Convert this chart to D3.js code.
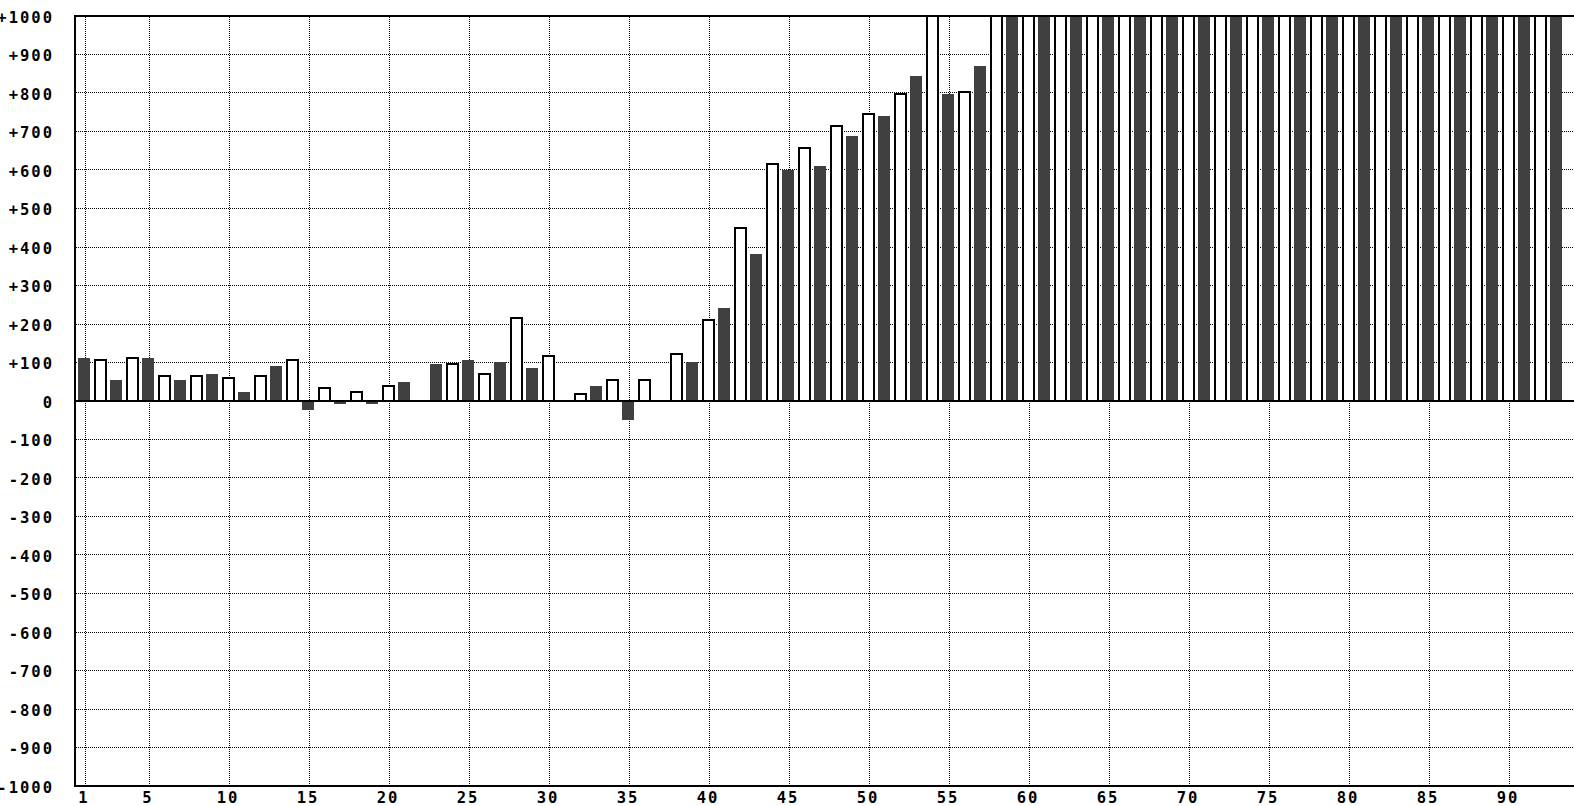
<!DOCTYPE html>
<html>
<head>
<meta charset="utf-8">
<script src="https://cdn.jsdelivr.net/npm/d3@7"></script>
<style>
  html, body { margin: 0; padding: 0; background: #fff; overflow: hidden; }
  svg { display: block; }
  .lbl { font-family: "DejaVu Sans Mono", monospace; font-weight: bold; font-size: 15.5px; letter-spacing: 2px; fill: #000; }
</style>
</head>
<body>
<div id="chart-container"></div>
<script>
// --- 1. DATA ---
// bar number -> value (null = no bar); odd numbers are dark, even are outlined
// values of 1000 run off the top of the scale
const barValues = [
  112, 108, 55, 115, 112, 68, 55, 68, 71, 63,
  23, 68, 91, 109, -23, 36, -8, 26, -8, 41,
  49, null, 96, 99, 106, 73, 101, 219, 86, 120,
  null, 21, 39, 58, -49, 58, null, 125, 101, 214,
  242, 453, 382, 619, 600, 660, 610, 717, 688, 749,
  740, 801, 844, 1000, 797, 806, 870, 1000, 1000, 1000,
  1000, 1000, 1000, 1000, 1000, 1000, 1000, 1000, 1000, 1000,
  1000, 1000, 1000, 1000, 1000, 1000, 1000, 1000, 1000, 1000,
  1000, 1000, 1000, 1000, 1000, 1000, 1000, 1000, 1000, 1000,
  1000, 1000, 1000
];
const xTicks = [1, 5, 10, 15, 20, 25, 30, 35, 40, 45, 50, 55, 60, 65, 70, 75, 80, 85, 90];
const yTicks = [-1000, -900, -800, -700, -600, -500, -400, -300, -200, -100, 0,
                100, 200, 300, 400, 500, 600, 700, 800, 900, 1000];

// --- 2. CONFIGURATION ---
const W = 1574, H = 806;
const plotLeft = 75, plotTop = 16, plotBottom = 786, plotRight = 1600;
const darkFill = '#404040';

const x = d3.scaleLinear().domain([1, 90]).range([84, 1508]);
const y = d3.scaleLinear().domain([-1000, 1000]).range([plotBottom, plotTop]);
const fmt = v => v > 0 ? '+' + v : String(v);

const svg = d3.select('#chart-container').append('svg')
  .attr('width', W)
  .attr('height', H);

svg.append('clipPath').attr('id', 'plot-clip')
  .append('rect')
  .attr('x', plotLeft).attr('y', plotTop)
  .attr('width', plotRight - plotLeft).attr('height', plotBottom - plotTop);

// --- 3. GRID ---
const grid = svg.append('g')
  .attr('stroke', '#000')
  .attr('stroke-width', 1)
  .attr('stroke-dasharray', '1,1')
  .attr('shape-rendering', 'crispEdges');

grid.selectAll('line.h')
  .data(yTicks.filter(v => v !== 0 && Math.abs(v) !== 1000))
  .enter().append('line')
  .attr('class', 'h')
  .attr('x1', plotLeft + 1).attr('x2', plotRight)
  .attr('y1', d => Math.floor(y(d)) + 0.5)
  .attr('y2', d => Math.floor(y(d)) + 0.5);

grid.selectAll('line.v')
  .data(xTicks)
  .enter().append('line')
  .attr('class', 'v')
  .attr('x1', d => Math.round(x(d)) + 1.5)
  .attr('x2', d => Math.round(x(d)) + 1.5)
  .attr('y1', plotTop + 1).attr('y2', plotBottom);

// --- 4. BARS ---
const bars = barValues
  .map((v, i) => ({ n: i + 1, v }))
  .filter(d => d.v !== null);

const barG = svg.append('g')
  .attr('clip-path', 'url(#plot-clip)')
  .attr('shape-rendering', 'crispEdges');

// off-scale bars are pushed past the frame so the clip cuts their tops
const topOf = d => d.v >= 1000 ? plotTop - 4 : Math.round(Math.min(y(d.v), y(0)));
const hOf = d => Math.round(Math.max(y(d.v), y(0))) - topOf(d);

barG.selectAll('rect.dark')
  .data(bars.filter(d => d.n % 2 === 1))
  .enter().append('rect')
  .attr('class', 'dark')
  .attr('x', d => Math.round(x(d.n)) - 6)
  .attr('width', 12)
  .attr('y', topOf)
  .attr('height', hOf)
  .attr('fill', darkFill);

barG.selectAll('rect.light')
  .data(bars.filter(d => d.n % 2 === 0))
  .enter().append('rect')
  .attr('class', 'light')
  .attr('x', d => Math.round(x(d.n)) - 5)
  .attr('width', 11)
  .attr('y', d => topOf(d) + 1)
  .attr('height', d => Math.max(0, hOf(d) - 1))
  .attr('fill', '#fff')
  .attr('stroke', '#000')
  .attr('stroke-width', 2);

// --- 5. AXES & FRAME ---
const frame = svg.append('g')
  .attr('stroke', '#000')
  .attr('stroke-width', 2)
  .attr('shape-rendering', 'crispEdges');

frame.append('line').attr('x1', plotLeft - 1).attr('x2', plotRight).attr('y1', plotTop).attr('y2', plotTop);
frame.append('line').attr('x1', plotLeft - 1).attr('x2', plotRight).attr('y1', plotBottom).attr('y2', plotBottom);
frame.append('line').attr('x1', plotLeft).attr('x2', plotLeft).attr('y1', plotTop - 1).attr('y2', plotBottom + 1);
frame.append('line').attr('x1', plotLeft).attr('x2', plotRight).attr('y1', y(0)).attr('y2', y(0));

svg.append('g').selectAll('text')
  .data(yTicks)
  .enter().append('text')
  .attr('class', 'lbl')
  .attr('x', 54)
  .attr('y', d => y(d) + 6.5)
  .attr('text-anchor', 'end')
  .text(fmt);

svg.append('g').selectAll('text')
  .data(xTicks)
  .enter().append('text')
  .attr('class', 'lbl')
  .attr('x', d => x(d))
  .attr('y', 803)
  .attr('text-anchor', 'middle')
  .text(d => d);
</script>
</body>
</html>
